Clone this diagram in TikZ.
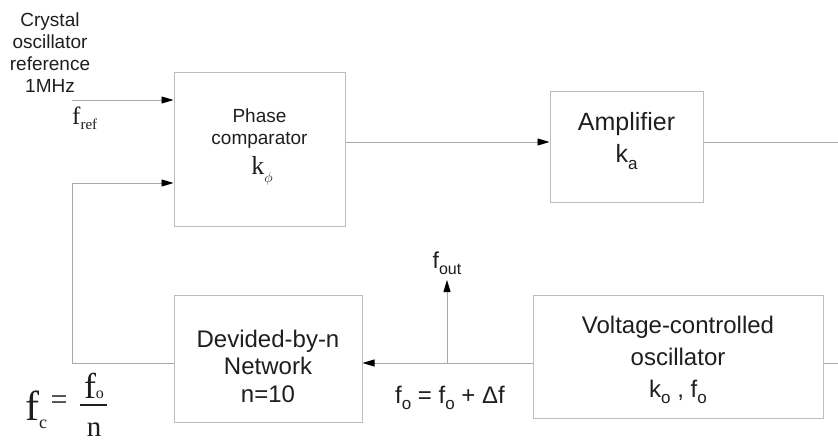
\documentclass[tikz,border=0pt]{standalone}
\usepackage{fontspec}
\setmainfont{Liberation Sans}
\newfontfamily\serif{Liberation Serif}
\usetikzlibrary{arrows.meta}
\definecolor{txt}{HTML}{1E1E1E}
\definecolor{ln}{HTML}{A8A8A8}
\definecolor{bx}{HTML}{BDBDBD}
\newcommand\fs[2]{\fontsize{#1}{#2}\selectfont}
\newcommand\lsub[3][0.28em]{\raisebox{-#1}{\fs{#2}{#2}#3}}
\tikzset{
  blk/.style={draw=bx, line width=1pt, rectangle, inner sep=0pt},
  lbl/.style={inner sep=0pt, text=txt, align=center, anchor=base},
  conn/.style={draw=ln, line width=0.9pt},
  arr/.style={conn, -{Triangle[length=12pt,width=7pt,color=black,fill=black]}}
}
\begin{document}
\begin{tikzpicture}[x=1pt,y=-1pt]
\useasboundingbox (0,0) rectangle (838,441);
% boxes
\node[blk, minimum width=171pt, minimum height=153pt] (pc) at (259.5,149.5) {};
\node[blk, minimum width=153pt, minimum height=110pt] (amp) at (626.5,147) {};
\node[blk, minimum width=188pt, minimum height=127pt] (div) at (268,358.5) {};
\node[blk, minimum width=290pt, minimum height=123pt] (vco) at (678,356.5) {};
% labels in boxes (base = last line)
\node[lbl, font=\fs{19}{22}] (pct) at (259.5,145) {Phase\\comparator};
\node[lbl, font=\serif\fs{26}{26}] (pck) at (262,175) {k\lsub[0.3em]{15}{$\phi$}};
\node[lbl, font=\fs{25}{32}] (ampt) at (626.5,162) {Amplifier\\k\lsub{17}{a}};
\node[lbl, font=\fs{24}{27.5}] (divt) at (268,402) {Devided-by-n\\Network\\n=10};
\node[lbl, font=\fs{24}{32}] (vcot) at (678,397) {Voltage-controlled\\oscillator\\k\lsub{17}{o} , f\lsub{17}{o}};
% outside labels
\node[lbl, font=\fs{19}{22.3}] (xtal) at (50,93) {Crystal\\oscillator\\reference\\1MHz};
\node[lbl, anchor=base west, font=\serif\fs{25}{25}] (fref) at (72,125) {f\lsub[0.2em]{15}{ref}};
\node[lbl, font=\fs{23}{23}] (fout) at (447,268) {f\lsub{16}{out}};
\node[lbl, font=\fs{24}{24}] (feq) at (450,403) {f\lsub{17}{o} = f\lsub{17}{o} + Δf};
\node[lbl, anchor=base west, font=\serif\fs{42}{42}] (fc) at (25,420) {f\lsub[0.2em]{18}{c}};
\node[lbl, anchor=center, font=\serif\fs{30}{30}] (eqs) at (59,403) {=};
\node[lbl, font=\serif\fs{36}{36}] (fo) at (94,398) {f\lsub[0em]{16}{o}};
\node[lbl, font=\serif\fs{29}{29}] (nn) at (94,436) {n};
\coordinate (barl) at (80,405);
\coordinate (barr) at (107,405);
\draw[txt, line width=1.2pt] (barl) -- (barr);
% connectors
\coordinate (xin) at (72,100);
\coordinate (fbin) at (72,183);
\coordinate (fbc) at (72,363);
\coordinate (ampout) at (838,142);
\coordinate (vcoin) at (838,363);
\coordinate (tap) at (447,363);
\coordinate (outtip) at (447,280);
\draw[arr] (xin) -- (xin -| pc.west);
\draw[arr] (pc.east |- ampout) -- (amp.west |- ampout);
\draw[conn] (amp.east |- ampout) -- (ampout);
\draw[conn] (vcoin) -- (vco.east |- vcoin);
\draw[arr] (vco.west |- vcoin) -- (div.east |- vcoin);
\draw[arr] (tap) -- (outtip);
\draw[arr] (div.west |- fbc) -- (fbc) -- (fbin) -- (fbin -| pc.west);
\end{tikzpicture}
\end{document}
